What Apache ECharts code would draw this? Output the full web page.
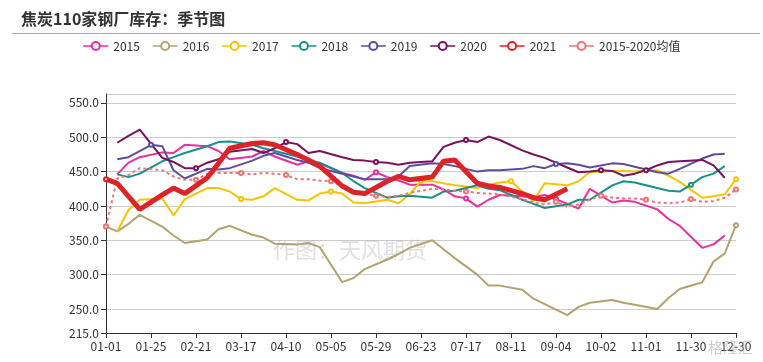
<!DOCTYPE html>
<html>
<head>
<meta charset="utf-8">
<script src="https://cdn.jsdelivr.net/npm/echarts@6/dist/echarts.min.js"></script>
<style>html,body{margin:0;padding:0;background:#fff;}#c{width:763px;height:362px;}</style>
</head>
<body>
<div id="c"></div>
<script>
const categories = [
 '01-01','01-07','01-13','01-19',
 '01-25','02-01','02-08','02-15',
 '02-21','02-27','03-05','03-11',
 '03-17','03-23','03-29','04-04',
 '04-10','04-16','04-22','04-29',
 '05-05','05-11','05-17','05-23',
 '05-29','06-05','06-11','06-17',
 '06-23','06-29','07-05','07-11',
 '07-17','07-24','07-30','08-05',
 '08-11','08-17','08-23','08-29',
 '09-04','09-11','09-18','09-25',
 '10-02','10-10','10-17','10-24',
 '11-01','11-08','11-15','11-22',
 '11-30','12-07','12-14','12-22',
 '12-30'];

const seriesNames = ['2015','2016','2017','2018','2019','2020','2021','2015-2020均值'];

const v2015 = [null,446,463,471, null,478,477,489, null,487,480,468, null,472,480,472,
 null,460,465,462, null,448,444,438, 449,442,437,431, null,431,424,414,
 411,399,409,416, null,414,413,416, 410,403,396,425, null,405,408,406,
 null,395,381,371, null,339,344,357, null];
const v2016 = [370,363,374,387, null,370,357,346, null,351,366,371, null,358,354,345,
 null,344,346,340, null,289,295,308, null,322,330,339, null,350,337,324,
 null,300,284,284, null,278,265,257, null,241,253,259, null,263,259,256,
 null,250,266,279, null,289,319,331, 372];
const v2017 = [null,363,394,409, null,411,386,410, null,426,426,421, 410,409,414,426,
 null,409,408,418, 421,418,405,404, null,409,404,417, 436,436,433,430,
 null,426,431,434, 436,421,407,433, null,430,436,449, null,451,451,450,
 null,452,444,435, null,412,414,417, 439];
const v2018 = [null,446,442,447, null,465,471,477, null,487,493,494, null,489,484,480,
 null,472,467,463, null,448,436,426, null,412,414,415, null,412,421,422,
 null,430,425,423, null,409,403,397, null,402,409,409, null,430,436,434,
 null,426,422,421, 431,442,447,458, null];
const v2019 = [null,468,471,480, 489,487,452,440, null,454,453,455, null,466,473,477,
 null,467,463,455, null,447,443,439, null,439,443,458, null,462,461,458,
 null,450,452,452, null,454,458,455, 461,462,460,456, null,462,461,457,
 null,449,447,454, null,469,475,476, null];
const v2020 = [null,492,502,511, null,470,464,455, 455,463,468,479, null,483,477,484,
 493,490,477,480, null,471,467,466, 464,463,460,463, null,465,486,492,
 496,493,501,496, null,481,475,470, null,456,449,450, 452,451,444,447,
 452,459,464,465, null,467,459,441, null];
const v2021 = [439,433,414,395, null,416,426,418, null,441,462,484, null,491,492,489,
 null,475,467,458, null,429,420,418, null,436,443,438, null,442,465,467,
 null,433,429,427, null,418,412,409, null,425];
const vMean = [370,440,445,455, null,452,443,438, 438,447,448,448, 448,446,448,447,
 445,439,439,437, 436,429,421,417, 415,413,415,419, null,425,424,422,
 421,419,418,417, null,410,405,402, 406,399,402,409, 415,412,411,411,
 409,405,404,405, 410,406,407,412, 424];

const yTicks = {min: 215, max: 563};

const values = [v2015, v2016, v2017, v2018, v2019, v2020, v2021, vMean];
const colors = ['#EC2D9F','#B3A46F','#F6C400','#17908B','#5B4E9E','#78125E','#DE2328','#F07474'];
const FONT = '"Noto Sans CJK SC", "Microsoft YaHei", sans-serif';

const series = seriesNames.map((name, k) => {
  const isThick = name === '2021';
  const isMean = k === 7;
  return {
    name: name,
    type: 'line',
    data: values[k],
    connectNulls: true,
    symbol: 'emptyCircle',
    symbolSize: 4,
    showSymbol: true,
    showAllSymbol: false,
    color: colors[k],
    lineStyle: {width: isThick ? 5 : 2, type: isMean ? [3, 3] : 'solid', color: colors[k]},
    itemStyle: {color: colors[k], borderWidth: 1.5},
    emphasis: {disabled: true},
    animation: false,
    z: isThick ? 3 : 2
  };
});

const legendData = seriesNames.map((name, k) => ({
  name: name,
  lineStyle: {width: 1.5, type: 'solid', color: colors[k]}
}));

const chart = echarts.init(document.getElementById('c'), null, {renderer: 'canvas'});
chart.setOption({
  animation: false,
  textStyle: {fontFamily: FONT},
  title: {
    text: '焦炭110家钢厂库存：季节图',
    left: 16, top: 6,
    textStyle: {fontSize: 16, fontWeight: 'bold', color: '#333', fontFamily: FONT}
  },
  legend: {
    top: 35, left: 'center',
    itemWidth: 25, itemHeight: 10, itemGap: 12,
    data: legendData,
    textStyle: {fontSize: 12, color: '#333', fontFamily: FONT}
  },
  graphic: [
    {type: 'line', shape: {x1: 12, y1: 33.5, x2: 760, y2: 33.5}, style: {stroke: '#aaa', lineWidth: 1}, z: 10},
    {type: 'text', left: 273, top: 239, style: {text: '作图：天风期货', font: '22px ' + FONT, fill: 'rgba(160,160,160,0.32)'}, z: 10},
    {type: 'text', left: 708, top: 340, style: {text: '格隆汇', font: '15px ' + FONT, fill: 'rgba(170,170,170,0.55)'}, z: 10}
  ],
  grid: {left: 106, right: 27, top: 94, bottom: 29, containLabel: false},
  xAxis: {
    type: 'category',
    data: categories,
    boundaryGap: false,
    axisLine: {lineStyle: {color: '#333', width: 1}},
    axisTick: {interval: 3, length: 5, lineStyle: {color: '#333'}},
    axisLabel: {interval: 3, fontSize: 12, color: '#333', margin: 7, fontFamily: FONT},
    splitLine: {show: false}
  },
  yAxis: {
    type: 'value',
    min: yTicks.min, max: yTicks.max,
    axisLine: {show: true, lineStyle: {color: '#333', width: 1}},
    axisTick: {show: true, length: 5, lineStyle: {color: '#333'}},
    axisLabel: {fontSize: 12, color: '#333', margin: 7, fontFamily: FONT, formatter: v => v.toFixed(1)},
    splitLine: {show: true, lineStyle: {color: '#ccc', width: 1}}
  },
  series: series
});
</script>
</body>
</html>
